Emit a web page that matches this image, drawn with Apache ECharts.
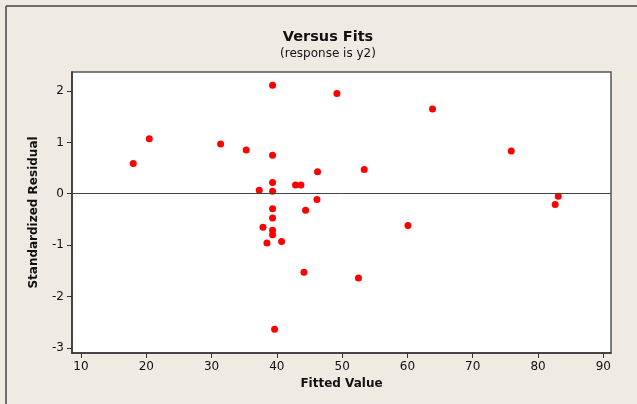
<!DOCTYPE html>
<html>
<head>
<meta charset="utf-8">
<script src="https://cdn.jsdelivr.net/npm/echarts@6/dist/echarts.min.js"></script>
<style>html,body{margin:0;padding:0;background:#EFEBE2;}#c{width:637px;height:404px;}</style>
</head>
<body>
<div id="c"></div>
<script>
const fittedValues = [18.0, 20.46, 31.38, 35.3, 37.3, 39.34, 49.2, 39.34, 46.23, 53.38, 39.34, 42.86, 43.69, 39.34, 46.14, 39.34, 44.4, 39.34, 37.87, 39.34, 39.34, 38.48, 40.72, 44.15, 52.5, 39.65, 60.08, 63.84, 75.9, 83.1, 82.63];
const stdResiduals = [0.59, 1.07, 0.97, 0.85, 0.07, 2.11, 1.95, 0.75, 0.43, 0.47, 0.22, 0.17, 0.17, 0.05, -0.11, -0.29, -0.32, -0.47, -0.65, -0.71, -0.80, -0.96, -0.93, -1.53, -1.64, -2.64, -0.62, 1.65, 0.83, -0.05, -0.21];
const xTicks = [10, 20, 30, 40, 50, 60, 70, 80, 90];
const yTicks = [-3, -2, -1, 0, 1, 2];

const points = fittedValues.map((x, i) => [x, stdResiduals[i]]);
const font = 'DejaVu Sans';
const chart = echarts.init(document.getElementById('c'), null, {renderer: 'canvas'});
chart.setOption({
  backgroundColor: '#EFEBE2',
  animation: false,
  title: {
    text: 'Versus Fits',
    subtext: '(response is y2)',
    left: 323,
    textAlign: 'center',
    top: 25,
    itemGap: 3,
    textStyle: {fontFamily: font, fontSize: 14.5, fontWeight: 'bold', color: '#111'},
    subtextStyle: {fontFamily: font, fontSize: 12, color: '#111'}
  },
  graphic: [
    {type: 'line', shape: {x1: 6, y1: 6, x2: 637, y2: 6}, style: {stroke: '#444', lineWidth: 1.5}, silent: true},
    {type: 'line', shape: {x1: 6, y1: 6, x2: 6, y2: 404}, style: {stroke: '#444', lineWidth: 1.5}, silent: true}
  ],
  grid: {
    left: 72, right: 26, top: 72, bottom: 51,
    show: true, backgroundColor: '#ffffff', borderColor: '#555', borderWidth: 1.5
  },
  xAxis: {
    type: 'value', min: 8.62, max: 91.18,
    name: 'Fitted Value', nameLocation: 'middle', nameGap: 24,
    nameTextStyle: {fontFamily: font, fontSize: 12, fontWeight: 'bold', color: '#111'},
    axisLine: {show: true, onZero: false, lineStyle: {color: '#333', width: 1.5}},
    axisTick: {show: true, length: 5, lineStyle: {color: '#333'}, customValues: xTicks},
    axisLabel: {fontFamily: font, fontSize: 12, color: '#111', margin: 8, customValues: xTicks},
    splitLine: {show: false}
  },
  yAxis: {
    type: 'value', min: -3.1, max: 2.37,
    name: 'Standardized Residual', nameLocation: 'middle', nameGap: 32,
    nameTextStyle: {fontFamily: font, fontSize: 12, fontWeight: 'bold', color: '#111'},
    axisLine: {show: true, onZero: false, lineStyle: {color: '#333', width: 1.5}},
    axisTick: {show: true, length: 5, lineStyle: {color: '#333'}, customValues: yTicks},
    axisLabel: {fontFamily: font, fontSize: 12, color: '#111', margin: 8, customValues: yTicks},
    splitLine: {show: false}
  },
  series: [{
    type: 'scatter',
    data: points,
    symbol: 'circle',
    symbolSize: 7,
    itemStyle: {color: '#FF0000', opacity: 1},
    markLine: {
      silent: true,
      symbol: ['none', 'none'],
      label: {show: false},
      lineStyle: {color: '#444', width: 1, type: 'solid'},
      data: [{yAxis: 0}]
    }
  }]
});
</script>
</body>
</html>
